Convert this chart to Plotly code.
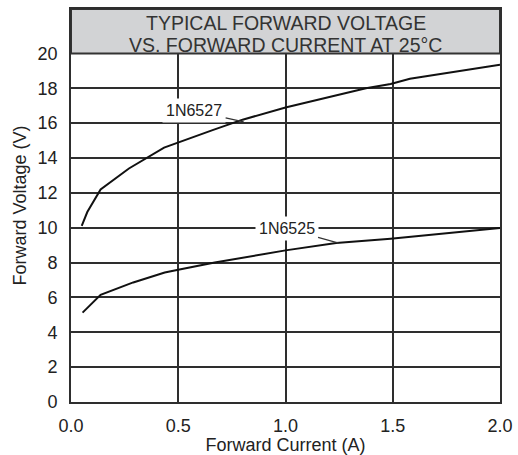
import plotly.graph_objects as go

# Data
x_1n6527 = [0.05, 0.076, 0.138, 0.27, 0.434, 0.5, 0.66, 0.80, 0.94, 1.0, 1.375, 1.49, 1.58, 2.0]
y_1n6527 = [10.1, 10.9, 12.2, 13.4, 14.6, 14.9, 15.6, 16.2, 16.7, 16.9, 18.0, 18.25, 18.55, 19.35]

x_1n6525 = [0.054, 0.138, 0.29, 0.437, 0.5, 0.67, 1.0, 1.236, 1.49, 2.0]
y_1n6525 = [5.13, 6.15, 6.86, 7.43, 7.59, 8.0, 8.7, 9.12, 9.37, 9.98]

series_names = ["1N6527", "1N6525"]
label_x = [0.574, 1.005]
label_y = [16.72, 9.94]
leader_x = [0.805, 1.248]
leader_y = [16.07, 9.12]

x_ticks = [0.0, 0.5, 1.0, 1.5, 2.0]
y_ticks = [0, 2, 4, 6, 8, 10, 12, 14, 16, 18, 20]
title_lines = ["TYPICAL FORWARD VOLTAGE", "VS. FORWARD CURRENT AT 25°C"]
title_line_y = [21.77, 20.5]
x_title = "Forward Current (A)"
y_title = "Forward Voltage (V)"

FONT = "Liberation Sans, Arial, sans-serif"
GRID = "#2e2e2e"
TXT = "#222222"

fig = go.Figure()
for xs, ys, nm in [(x_1n6527, y_1n6527, series_names[0]), (x_1n6525, y_1n6525, series_names[1])]:
    fig.add_trace(go.Scatter(x=xs, y=ys, mode="lines", name=nm,
                             line=dict(color="#111111", width=2), showlegend=False,
                             hoverinfo="skip"))

# Title box above y=20
fig.add_shape(type="rect", xref="x", yref="y", x0=x_ticks[0], x1=x_ticks[-1],
              y0=y_ticks[-1], y1=22.55, fillcolor="#d2d3d5",
              line=dict(color="#333333", width=2), layer="above")
for txt, ty in zip(title_lines, title_line_y):
    fig.add_annotation(xref="x", yref="y", x=1.0, y=ty, text=txt,
                       showarrow=False, font=dict(family=FONT, size=19.5, color="#333333"),
                       align="center", yanchor="middle")

# Curve labels with leader lines
for nm, lx, ly, hx, hy in zip(series_names, label_x, label_y, leader_x, leader_y):
    fig.add_annotation(xref="x", yref="y", x=hx, y=hy, ax=lx, ay=ly,
                       axref="x", ayref="y", text=nm, showarrow=True,
                       arrowhead=0, arrowwidth=1.2, arrowcolor="#333333",
                       bgcolor="white", borderpad=3,
                       font=dict(family=FONT, size=16, color=TXT))

fig.update_layout(
    width=518, height=455,
    margin=dict(l=71, r=18, t=9, b=53, autoexpand=False),
    paper_bgcolor="white", plot_bgcolor="white",
    font=dict(family=FONT, size=18, color=TXT),
)
fig.update_xaxes(range=[0, 2], tickvals=x_ticks, tickformat=".1f",
                 showgrid=True, gridcolor=GRID, gridwidth=1.6,
                 showline=True, linecolor=GRID, linewidth=1.6, mirror=True,
                 zeroline=False, ticks="", ticklabelstandoff=7, automargin=False,
                 title=dict(text=x_title, standoff=0, font=dict(size=18)),
                 tickfont=dict(size=18, color=TXT))
fig.update_yaxes(range=[0, 22.55], tickvals=y_ticks,
                 showgrid=True, gridcolor=GRID, gridwidth=1.6,
                 showline=True, linecolor=GRID, linewidth=1.6, mirror=True,
                 zeroline=False, ticks="", ticklabelstandoff=8, automargin=False,
                 title=dict(text=y_title, standoff=6, font=dict(size=18)),
                 tickfont=dict(size=18, color=TXT))

fig.write_html("out.html", config={"displayModeBar": False},
               post_script="document.body.style.margin='0';document.body.style.padding='0';")
